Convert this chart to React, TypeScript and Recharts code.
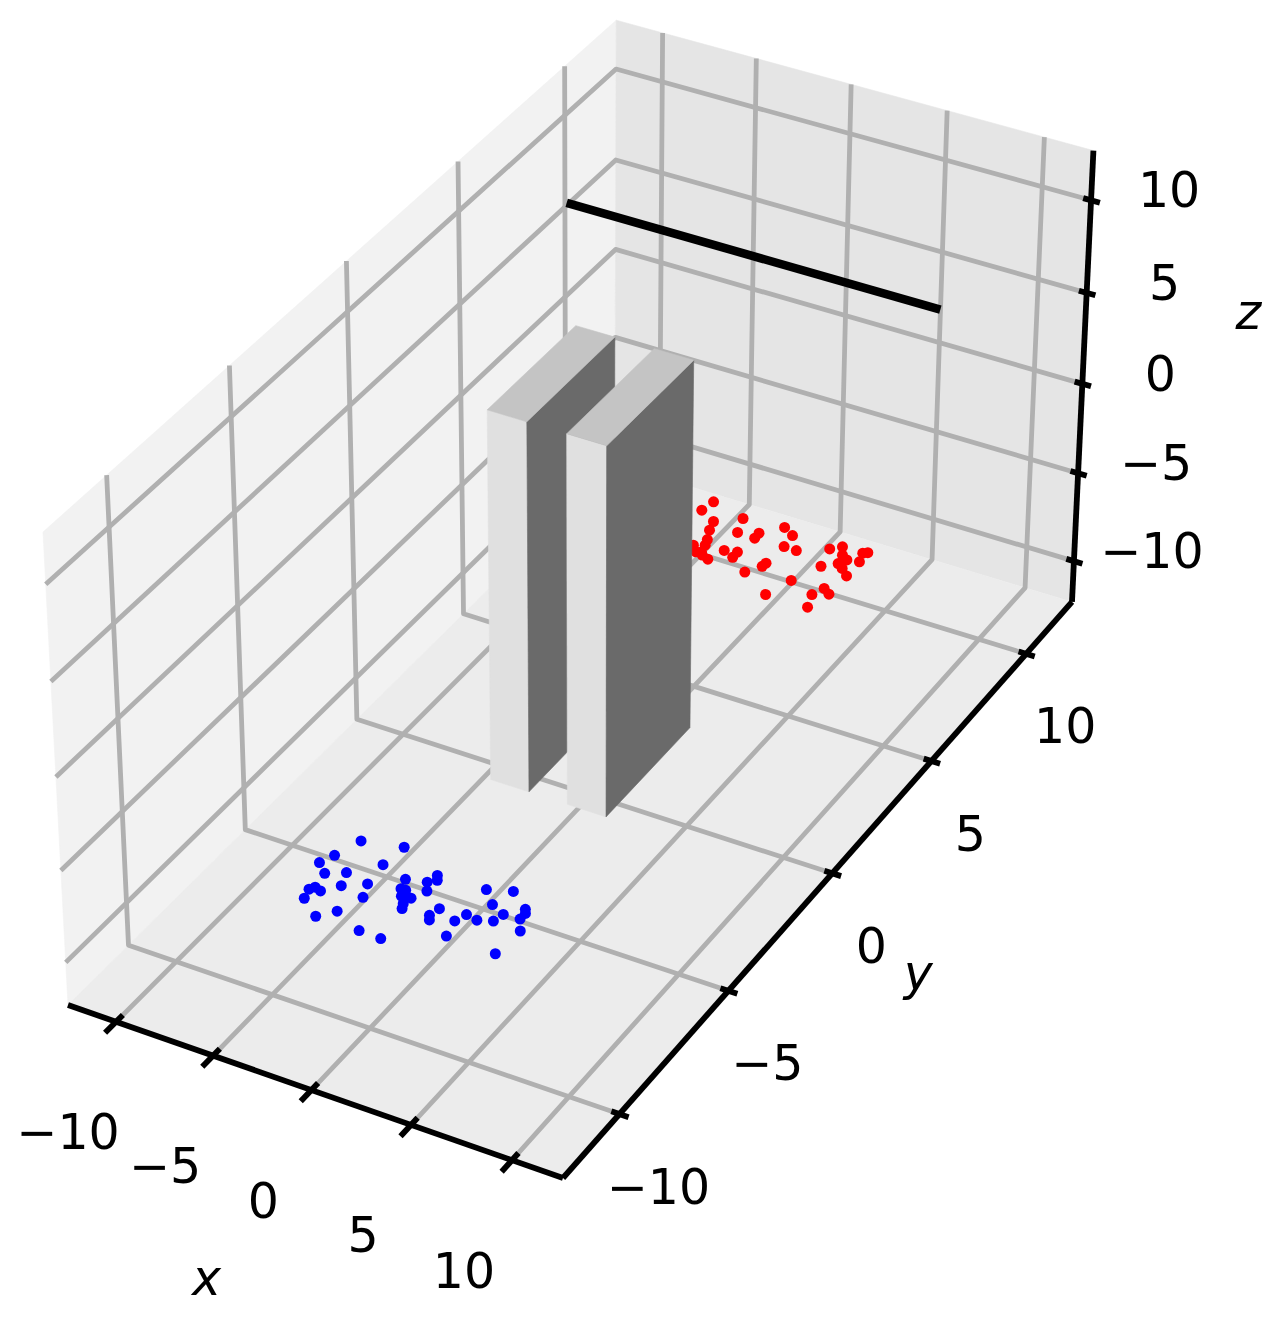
import React from 'react';
import { ScatterChart, Scatter, XAxis, YAxis } from 'recharts';

// tick values shared by the three axes
const ticks = [-10, -5, 0, 5, 10];
const tickText = ['\u221210', '\u22125', '0', '5', '10'];

// scatter clouds, both sit on one z plane
const blueX = [-5.65,-3.71,-6.13,-6.44,-3.87,-5.82,-5.00,-2.44,-1.34,-1.16,-1.48,-3.74,-4.70,-2.26,-2.02,-5.66,-5.82,-5.31,-1.16,-5.66,-3.41,-1.96,-1.83,-1.51,1.10,2.22,-1.61,1.89,-0.02,-1.47,-3.89,-4.53,-0.16,0.01,1.25,2.67,3.34,3.49,1.03,1.86,2.53,3.49,3.93,-2.31,-1.18,1.26,3.79];
const blueY = [-5.56,-5.30,-6.32,-6.72,-6.10,-7.01,-6.75,-6.33,-5.86,-6.02,-6.19,-6.89,-7.23,-6.68,-6.68,-7.56,-7.69,-7.62,-6.48,-8.03,-7.37,-6.92,-6.84,-6.88,-5.79,-5.56,-7.14,-6.21,-6.91,-7.31,-8.09,-8.48,-7.23,-7.38,-6.81,-6.41,-6.01,-6.14,-7.14,-6.88,-6.73,-6.38,-6.76,-8.47,-8.49,-7.71,-7.75];
const redX = [-4.87,-5.02,-4.06,-2.94,-3.87,-2.60,-1.67,-1.65,-0.83,-0.17,-3.58,-0.08,0.59,1.92,2.37,-3.93,-3.44,-2.43,-1.81,-1.80,-3.32,-3.55,-3.16,-2.76,2.70,3.07,2.85,3.66,3.47,3.67,2.24,-0.17,-0.21,3.21,3.68,-0.70,1.56,3.24,3.66,2.97,1.05,3.28];
const redY = [10.50,10.04,9.74,10.20,9.36,9.60,9.82,9.58,10.34,10.12,8.98,9.60,9.59,10.04,10.27,8.60,8.74,8.76,8.85,8.60,8.44,8.38,8.33,8.24,9.95,9.82,9.58,10.34,10.26,9.89,9.28,8.76,8.60,9.44,9.21,8.18,8.40,8.48,8.32,8.11,7.58,7.59];
const cloudZ = -9.85;

// two upright boxes: [x0, x1, y0, y1, z0, z1]
const boxes = [
  [-3, -1, -2, 2, -10, 9.95],
  [1, 3, -2, 2, -10, 9.95],
];

// black line running along x
const lineX = [-10, 9.45];
const lineY = 7.85;
const lineZ = 8.2;

const LIM = 12.5;
const Z_LO = -12.35;
const Z_HI = 12.65;
const W = 1282;
const H = 1323;
const GRID = '#b0b0b0';

// perspective camera fitted to the box corners
const project = (x: number, y: number, z: number) => {
  const u = (x + LIM) / (2 * LIM);
  const v = (y + LIM) / (2 * LIM);
  const w = (z - Z_LO) / (Z_HI - Z_LO);
  const d = 1 - 0.03224 * u + 0.11906 * v - 0.046 * w;
  return {
    px: (68 + 476.85 * u + 620.2 * v - 27 * w) / d,
    py: (1005 + 135 * u - 485.8 * v - 497.5 * w) / d,
  };
};

type P3 = [number, number, number];
const path = (pts: P3[]) => pts.map((p) => project(p[0], p[1], p[2]));

// draws the projected points as one svg path through the scatter's line slot
const outline = (fill: string, stroke: string, width: number, closed: boolean) => (props: any) => {
  const d = props.points.map((p: any, i: number) => `${i ? 'L' : 'M'}${p.x} ${p.y}`).join(' ') + (closed ? ' Z' : '');
  return <path key={d} d={d} fill={fill} stroke={stroke} strokeWidth={width} strokeLinejoin="round" strokeLinecap="butt" />;
};

const noDot = () => <g />;

const polygon = (key: string, pts: P3[], fill: string) => (
  <Scatter key={key} data={path(pts)} isAnimationActive={false} shape={noDot} line={outline(fill, fill, 0.6, true)} />
);
const polyline = (key: string, pts: P3[], stroke: string, width: number) => (
  <Scatter key={key} data={path(pts)} isAnimationActive={false} shape={noDot} line={outline('none', stroke, width, false)} />
);

const dots = (key: string, xs: number[], ys: number[], color: string) => (
  <Scatter
    key={key}
    data={xs.map((x, i) => project(x, ys[i], cloudZ))}
    isAnimationActive={false}
    shape={(p: any) => <circle cx={p.cx} cy={p.cy} r={5.5} fill={color} />}
  />
);

const labels = (key: string, items: { px: number; py: number; label: string }[], italic = false) => (
  <Scatter
    key={key}
    data={items}
    isAnimationActive={false}
    shape={(p: any) => (
      <text
        x={p.cx}
        y={p.cy}
        textAnchor="middle"
        dominantBaseline="central"
        fontFamily="DejaVu Sans"
        fontSize={49}
        fontStyle={italic ? 'italic' : 'normal'}
        fill="#000"
      >
        {p.payload.label}
      </text>
    )}
  />
);

const boxFaces = (b: number[], n: number) => {
  const [x0, x1, y0, y1, z0, z1] = b;
  return [
    polygon(`front${n}`, [[x0, y0, z0], [x1, y0, z0], [x1, y0, z1], [x0, y0, z1]], '#e0e0e0'),
    polygon(`side${n}`, [[x1, y0, z0], [x1, y1, z0], [x1, y1, z1], [x1, y0, z1]], '#6a6a6a'),
    polygon(`top${n}`, [[x0, y0, z1], [x1, y0, z1], [x1, y1, z1], [x0, y1, z1]], '#c4c4c4'),
  ];
};

const shifted = (p: { px: number; py: number }, dx: number, dy: number, label: string) => ({
  px: p.px + dx,
  py: p.py + dy,
  label,
});

export default function App() {
  const L = LIM;
  return (
    <div style={{ position: 'absolute', left: 0, top: 0, width: W, height: H }}>
      <ScatterChart width={W} height={H} margin={{ top: 0, right: 0, bottom: 0, left: 0 }}>
        <XAxis type="number" dataKey="px" domain={[0, W]} hide />
        <YAxis type="number" dataKey="py" domain={[0, H]} reversed hide />

        {polygon('paneLeft', [[-L, -L, Z_LO], [-L, L, Z_LO], [-L, L, Z_HI], [-L, -L, Z_HI]], '#f2f2f2')}
        {polygon('paneBack', [[-L, L, Z_LO], [L, L, Z_LO], [L, L, Z_HI], [-L, L, Z_HI]], '#e5e5e5')}
        {polygon('paneFloor', [[-L, -L, Z_LO], [L, -L, Z_LO], [L, L, Z_LO], [-L, L, Z_LO]], '#ececec')}

        {ticks.map((t) => polyline(`gx${t}`, [[t, -L, Z_LO], [t, L, Z_LO], [t, L, Z_HI]], GRID, 4.8))}
        {ticks.map((t) => polyline(`gy${t}`, [[L, t, Z_LO], [-L, t, Z_LO], [-L, t, Z_HI]], GRID, 4.8))}
        {ticks.map((t) => polyline(`gz${t}`, [[-L, -L, t], [-L, L, t], [L, L, t]], GRID, 4.8))}

        {polyline('axisX', [[-L, -L, Z_LO], [L, -L, Z_LO]], '#000', 5.8)}
        {polyline('axisY', [[L, -L, Z_LO], [L, L, Z_LO]], '#000', 5.8)}
        {polyline('axisZ', [[L, L, Z_LO], [L, L, Z_HI]], '#000', 5.8)}
        {ticks.map((t) => polyline(`tx${t}`, [[t, -L + 0.28, Z_LO], [t, -L - 0.45, Z_LO]], '#000', 5.8))}
        {ticks.map((t) => polyline(`ty${t}`, [[L - 0.4, t, Z_LO], [L + 0.45, t, Z_LO]], '#000', 5.8))}
        {ticks.map((t) => polyline(`tz${t}`, [[L - 0.4, L, t], [L + 0.45, L, t]], '#000', 5.8))}

        {polyline('blackLine', [[lineX[0], lineY, lineZ], [lineX[1], lineY, lineZ]], '#000', 8.6)}

        {dots('red', redX, redY, '#ff0000')}
        {dots('blue', blueX, blueY, '#0000ff')}

        {boxes.flatMap((b, n) => boxFaces(b, n))}

        {labels('xLabels', ticks.map((t, i) => shifted(project(t, -L, Z_LO), -48, 111, tickText[i])))}
        {labels('yLabels', ticks.map((t, i) => shifted(project(L, t, Z_LO), 39, 73, tickText[i])))}
        {labels('zLabels', ticks.map((t, i) => shifted(project(L, L, t), 78, -9.5, tickText[i])))}
        {labels('xTitle', [shifted(project(0, -L, Z_LO), -105, 188, 'x')], true)}
        {labels('yTitle', [shifted(project(L, 0, Z_LO), 86, 100, 'y')], true)}
        {labels('zTitle', [shifted(project(L, L, 0), 166, -71, 'z')], true)}
      </ScatterChart>
    </div>
  );
}
